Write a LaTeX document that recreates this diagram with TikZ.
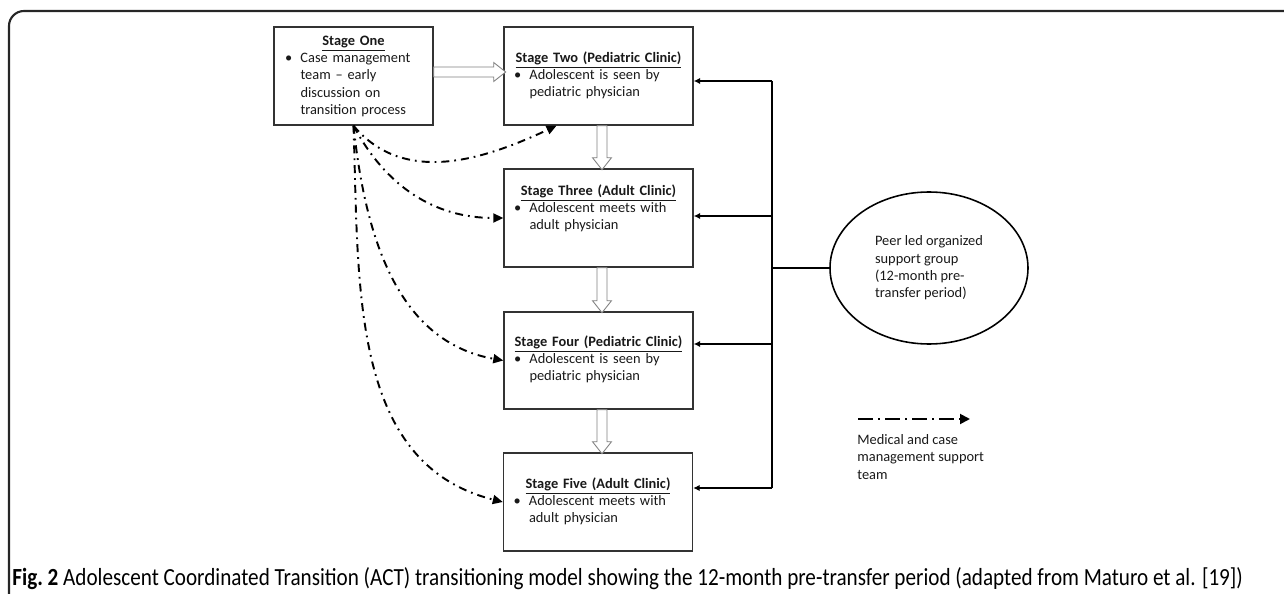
\documentclass[tikz,border=0pt]{standalone}
\usepackage{fontspec}
\setmainfont{Carlito}
\usepackage{tikz}
\usetikzlibrary{positioning,shapes.geometric,arrows.meta,calc}

\newcommand{\stagetitle}[1]{\strut\hfill\textbf{\underline{#1}}\hfill\null}
\newcommand{\itm}{\makebox[3.1mm][l]{\textbullet}}
\newcommand{\cnt}{\hspace*{3.1mm}}

\begin{document}
\begin{tikzpicture}[x=0.2mm, y=0.2mm,
    stagebox/.style={draw=black!80, line width=0.8pt, inner sep=0pt, minimum width=37.8mm, minimum height=19.6mm},
    stagetext/.style={anchor=north, inner sep=0pt, align=left, text=black!90, font=\fontsize{8.2}{9.9}\selectfont},
    hollow/.style={draw=gray, line width=0.5pt, fill=white},
    medline/.style={line width=1.1pt, dash pattern=on 1.6mm off 1mm on 0.35mm off 1mm,
        -{Triangle[length=2mm,width=1.8mm]}},
    peerline/.style={line width=1.2pt},
    peerarrow/.style={peerline, -{Latex[length=1.3mm,width=1.3mm]}}]
    \useasboundingbox (0,0) rectangle (1284,-594);
    % Frame
    \draw[black!85, line width=1.2pt, rounded corners=3mm] (9,-594) -- (9,-11) -- (1284,-11);

    % Stages
    \node[stagebox, minimum width=31.8mm] (one) at (353.5,-76) {};
    \node[stagebox] (two) at (598.5,-76) {};
    \node[stagebox] (three) at (598.5,-218) {};
    \node[stagebox, minimum height=19.4mm] (four) at (598.5,-360.5) {};
    \node[stagebox] (five) at (598,-502) {};

    \node[stagetext, text width=27.4mm] (one-txt) at ([yshift=-1.24mm]one.north)
        {\stagetitle{Stage One}\\ \itm Case management\\ \cnt team -- early\\ \cnt discussion on\\ \cnt transition process};
    \node[stagetext, text width=33.8mm] (two-txt) at ([yshift=-4.64mm]two.north)
        {\stagetitle{Stage Two (Pediatric Clinic)}\\ \itm Adolescent is seen by\\ \cnt pediatric physician};
    \node[stagetext, text width=33.8mm] (three-txt) at ([yshift=-2.84mm]three.north)
        {\stagetitle{Stage Three (Adult Clinic)}\\ \itm Adolescent meets with\\ \cnt adult physician};
    \node[stagetext, text width=33.8mm] (four-txt) at ([yshift=-4.44mm]four.north)
        {\stagetitle{Stage Four (Pediatric Clinic)}\\ \itm Adolescent is seen by\\ \cnt pediatric physician};
    \node[stagetext, text width=33.8mm] (five-txt) at ([yshift=-4.64mm]five.north)
        {\stagetitle{Stage Five (Adult Clinic)}\\ \itm Adolescent meets with\\ \cnt adult physician};

    % Hollow arrows between stages
    \draw[hollow] ([yshift=0.8mm]one.east) ++(0,5) -- ++(60,0) -- ++(0,4.5) -- ++(12,-9.5)
        -- ++(-12,-9.5) -- ++(0,4.5) -- ++(-60,0) -- cycle;
    \draw[hollow] ([xshift=0.7mm]two.south) ++(-5,0) -- ++(0,-32) -- ++(-4.5,0) -- ++(9.5,-12)
        -- ++(9.5,12) -- ++(-4.5,0) -- ++(0,32) -- cycle;
    \draw[hollow] ([xshift=0.7mm]three.south) ++(-5,0) -- ++(0,-33) -- ++(-4.5,0) -- ++(9.5,-12)
        -- ++(9.5,12) -- ++(-4.5,0) -- ++(0,33) -- cycle;
    \draw[hollow] ([xshift=0.7mm]four.south) ++(-5,0) -- ++(0,-32) -- ++(-4.5,0) -- ++(9.5,-12)
        -- ++(9.5,12) -- ++(-4.5,0) -- ++(0,32) -- cycle;

    % Support group
    \node[draw, ellipse, line width=0.9pt, minimum width=39.6mm, minimum height=30.4mm, inner sep=0pt,
        align=left, text=black!90, font=\fontsize{8.2}{9.9}\selectfont] (peer) at (929,-268)
        {Peer led organized\\support group\\(12-month pre-\\transfer period)};
    \coordinate (bus) at (772,-268);
    \coordinate (s2) at (772,-81);
    \coordinate (s3) at (772,-216);
    \coordinate (s4) at (772,-344);
    \coordinate (s5) at (772,-488);
    \draw[peerline] (peer.west) -- (bus);
    \draw[peerline] (s2) -- (s5);
    \draw[peerarrow] (s2) -- (s2 -| two.east);
    \draw[peerarrow] (s3) -- (s3 -| three.east);
    \draw[peerarrow] (s4) -- (s4 -| four.east);
    \draw[peerarrow] (s5) -- (s5 -| five.east);

    % Case management team
    \draw[medline] (one.south) to[out=-50, in=205] ([xshift=-8.4mm]two.south);
    \draw[medline] (one.south) to[out=-62, in=180] (three.west);
    \draw[medline] (one.south) to[out=-84, in=170] (four.west);
    \draw[medline] (one.south) to[out=-88, in=166] (five.west);

    % Legend
    \coordinate (key-a) at (858,-419);
    \coordinate (key-b) at (970,-419);
    \draw[line width=1.1pt, dash pattern=on 3mm off 1mm on 0.4mm off 1mm,
        -{Triangle[length=2mm,width=2mm]}] (key-a) -- (key-b);
    \node[anchor=north west, inner sep=0pt, align=left, text=black!90,
        font=\fontsize{8.2}{9.9}\selectfont] (key) at (857,-432)
        {\strut Medical and case\\management support\\team};

    % Caption
    \node[anchor=base west, inner sep=0pt] (caption) at (12,-585)
        {\scalebox{0.86}[1]{\fontsize{14}{16}\selectfont\textbf{Fig.~2} Adolescent Coordinated Transition (ACT) transitioning model showing the 12-month pre-transfer period (adapted from Maturo et al. [19])}};
\end{tikzpicture}
\end{document}
